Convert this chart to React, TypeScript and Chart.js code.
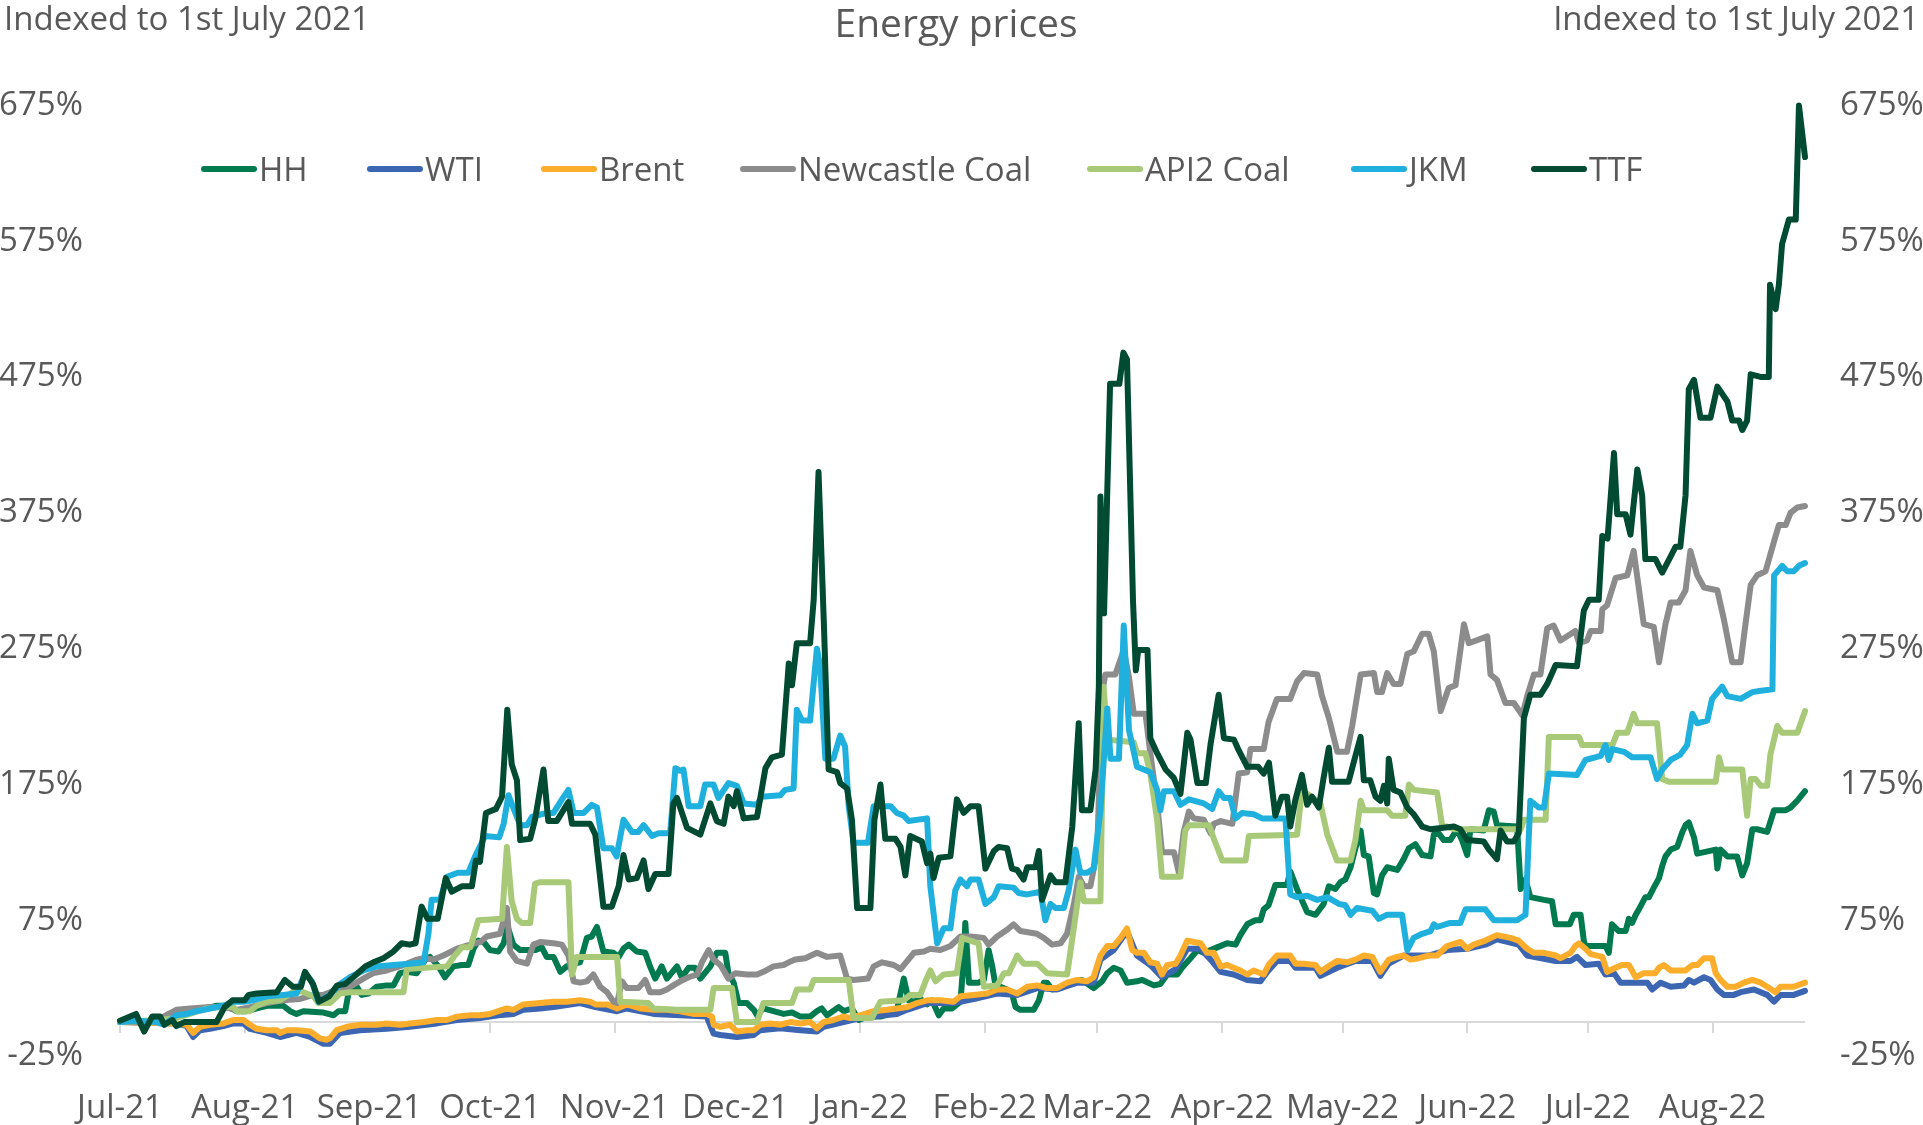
import React, { useEffect, useRef } from "react";
import { Chart, registerables } from "chart.js";

Chart.register(...registerables);

// ---------- Axis / label data ----------
const chartTitle = "Energy prices";
const axisTitle = "Indexed to 1st July 2021";
const monthLabels = ["Jul-21", "Aug-21", "Sep-21", "Oct-21", "Nov-21", "Dec-21", "Jan-22", "Feb-22", "Mar-22", "Apr-22", "May-22", "Jun-22", "Jul-22", "Aug-22"];
// day offsets from 1 July 2021 of each month start
const monthStartDays = [0, 31, 62, 92, 123, 153, 184, 215, 243, 274, 304, 335, 365, 396];
const lastDay = 419;
const yMin = -25;
const yMax = 675;
const yStep = 100;

const seriesNames = ["HH", "WTI", "Brent", "Newcastle Coal", "API2 Coal", "JKM", "TTF"];
const seriesColors = ["#007A4E", "#3C66B1", "#FBAD2B", "#8C8C8C", "#A7C978", "#1FB0DD", "#004B31"];

// ---------- Series values: [day since 1 Jul 2021, % change] ----------
const hhPoints: [number, number][] = [[0,0],[6,0],[10,3],[14,5],[17.4,8],[21.6,10],[24,12],[26.5,12],[29,8],[31.5,8],[34,10],[36.5,12],[40.6,12],[42.3,8],[43.9,6],[45.6,8],[50.6,7],[53.1,5],[54.3,8],[56,8],[56.8,21],[58.9,26],[60.1,20],[61.8,21],[63.8,26],[66.3,27],[68,27],[69.6,36],[71.3,37],[73.8,36],[75.9,46],[77.1,48],[79.2,41],[80.8,33],[82.9,41],[85,42],[86.6,42],[87.9,54],[89.1,60],[90.4,59],[92,53],[94.1,52],[95.4,58],[96.4,70],[97.8,57],[99.5,53],[103.2,53],[104.9,55],[106.1,48],[107.8,48],[109.5,37],[111.1,41],[112.8,43],[114.4,44],[116.1,62],[117.3,63],[118.6,70],[120.2,52],[122.7,51],[124,48],[125.2,54],[126.5,57],[128.5,52],[130.6,51],[131.8,41],[133.1,32],[134.7,41],[136,32],[138.5,41],[139.7,33],[141.4,40],[143,40],[144.3,32],[146.8,41],[148.4,51],[150.5,51],[151.3,36],[152.6,29],[153.8,14],[155.9,14],[157.6,9],[158.4,5],[160,10],[162.5,8],[165,6],[167.1,7],[169.2,4],[171.6,4],[173.3,8],[174.5,10],[175.8,5],[178.7,11],[180,8],[182,10],[183.7,1.5],[185.7,4],[189.1,4],[191.5,6],[193.2,9],[194.9,32],[196.1,16],[197.4,15],[199,17],[200.7,13],[201.9,16],[203.6,5],[204.8,10],[206.9,10],[209,15],[209.8,47],[210.2,73],[211.1,29],[213.5,29],[214.8,31],[216,53],[216.9,41],[217.7,27],[218.9,26],[220.6,24],[221.8,21],[222.7,11],[223.9,9],[227.2,9],[228.5,16],[229.7,29],[230.5,29],[231.8,24],[233.9,25],[236.3,29],[239.2,31],[242.1,25],[244.2,30],[245.5,36],[247.1,40],[248.8,38],[250.4,29],[252.9,30],[254.2,31],[257.1,27],[258.7,28],[260.4,35],[262.9,35],[264.1,40],[266.2,47],[267.9,53],[269.5,51],[271.2,53],[272.8,55],[275.3,58],[277.4,57],[278.6,64],[280.3,72],[282.3,75],[283.6,75],[284.4,83],[285.6,86],[287.3,101],[290.2,101],[291,111],[293.1,95],[295.2,81],[297.3,79],[299.3,87],[300.6,100],[302.2,98],[303.5,103],[304.7,105],[306,114],[307.2,128],[308.5,141],[309.3,123],[310.5,122],[311.8,95],[312.6,94],[313.8,108],[315.1,114],[317.6,112],[319.2,120],[320.5,128],[322.1,131],[323.8,123],[325.9,122],[326.7,138],[327.9,139],[329.2,134],[330.8,134],[332.5,142],[333.7,134],[335,123],[335.8,142],[339.1,141],[340.4,156],[341.6,155],[342.4,145],[347.4,144],[348.3,98],[349.5,105],[350.7,92],[354.1,90],[356.1,89],[357,72],[360.5,72],[361.5,79],[363.2,79],[364,60],[364.4,56],[369.4,56],[370.2,51],[371,72],[372.7,67],[374.4,67],[375.2,76],[376,73],[376.9,79],[377.7,83],[379.3,92],[380.2,92],[381.4,99],[382.7,106],[383.5,115],[384.3,122],[385.6,127],[387.2,129],[388.5,140],[389.3,145],[390.1,147],[391.4,136],[392.2,124],[396.8,127],[397.2,113],[398,127],[399.7,122],[402.1,122],[403.4,108],[404.6,117],[405.9,142],[407.1,142],[409.6,140],[411.3,156],[414.2,156],[415.4,158],[417.1,163],[419,170]];

const wtiPoints: [number, number][] = [[0,0],[14,-1],[16.6,-3],[18.2,-11],[19.9,-6],[22.4,-5],[25.7,-3],[28.2,-1],[30.7,-1],[32.3,-5],[36.5,-8],[39.8,-11],[43.9,-8],[47.3,-11],[50.6,-16],[52.2,-16],[54.7,-8],[59.7,-6],[66.3,-5],[72.1,-3.5],[78.8,-1],[83.8,1.5],[89.5,3],[94.1,5],[97.8,6],[100.3,9],[104.5,10],[107.8,11],[114.4,14],[118.2,11],[123.6,8],[126,10],[132.7,6],[139.3,5],[145.9,4],[147.6,-8.5],[149.3,-9.5],[153.4,-11],[157.6,-9.5],[159.2,-6],[164.2,-4.6],[169.2,-6],[173.3,-7],[175,-3.5],[179.9,0],[184.1,3],[189.9,5],[193.2,6],[195.7,9],[200.7,14],[207.3,14],[212.3,17],[218.1,21],[223.1,20],[228.1,25],[233,24],[238,29],[242.1,29],[243.8,46],[247.1,53],[250.4,67],[252.9,49],[256.2,42],[259.1,33],[262.5,39],[265.4,54],[268.7,54],[271.2,46],[273.7,37],[276.9,35],[280.3,31],[283.6,30],[285.3,37],[287.7,45],[291,45],[292.3,40],[297.3,40],[298.5,34],[302.7,40],[307.2,45],[311.4,45],[313.4,34],[315.5,43],[319.2,49],[325.4,49],[330,53],[335,54],[339.5,57],[342.4,61],[347.8,57],[349.9,49],[357,45],[360.7,45],[362.3,48],[364.4,42],[367.7,43],[369.4,35],[371.5,36],[373.1,29],[375.2,29],[379.8,29],[381,24],[383.1,29],[385.6,26],[388.9,27],[390.1,31],[391.4,29],[393.9,33],[395.5,31],[397.2,24],[398.8,20],[401.3,20],[403,22],[406.3,24],[409.6,20],[411.3,15],[412.9,20],[416.2,20],[419,23]];

const brentPoints: [number, number][] = [[0,0],[14,-1],[16.6,-2],[18.2,-8],[19.9,-3.5],[22.4,-2],[25.7,-1],[28.2,1.5],[30.7,1.5],[32.3,-2],[34,-5],[36.5,-6],[39,-6],[39.8,-8],[41.5,-6],[43.9,-6],[47.3,-7],[49.7,-12],[51.4,-13],[52.2,-12],[53.9,-6],[56.4,-3.5],[59.7,-2],[63.8,-2],[66.3,-1],[69.6,-2],[72.1,-1],[75.5,0],[78.8,1.5],[81.3,1.5],[83.8,4],[87.1,5],[89.5,5],[92,6],[94.1,8],[96.2,10],[97.8,9],[100.3,13],[104.5,14],[107.8,15],[111.1,15],[114.4,16],[116.9,15],[118.2,13],[121.1,13],[123.6,10],[126,13],[129.4,10],[132.7,9],[136,9],[139.3,8],[142.6,6],[145.9,6],[147.2,4],[147.6,-2],[149.3,-3.5],[151.7,-2],[153.4,-7],[155.9,-6],[157.6,-6],[159.2,-2],[161.7,-1],[164.2,-2],[166.7,0],[169.2,-1],[171.6,0],[173.3,-4.6],[175,0],[177.4,1.5],[179.9,4],[181.6,3],[184.1,5],[187.4,8],[190.7,9],[193.2,10],[195.7,11],[198.2,14],[200.7,16],[204,16],[207.3,15],[209,19],[212.3,20],[215.6,21],[218.1,24],[220.6,24],[223.1,21],[225.6,26],[228.1,27],[230.5,25],[233,25],[235.5,29],[238,31],[240.5,30],[242.1,33],[243.8,49],[245.5,56],[247.1,56],[248.8,62],[250.4,69],[251.7,53],[252.9,51],[254.6,51],[256.2,44],[257.9,43],[259.1,35],[260.4,42],[262.5,43],[263.7,49],[265.4,60],[267,59],[268.7,58],[270.3,51],[272,51],[273.7,41],[275.3,42],[276.9,40],[278.6,38],[280.3,35],[281.9,38],[284.4,35],[285.6,42],[287.7,49],[291,49],[292.3,43],[294.4,43],[297.3,42],[298.5,37],[301,42],[302.7,45],[305.1,44],[307.2,46],[309.3,49],[311.4,48],[313.4,37],[315.5,46],[317.6,48],[319.2,49],[320.9,46],[323,47],[325.4,49],[327.5,49],[330,56],[333.3,59],[335,54],[336.6,57],[339.5,60],[342.4,64],[345.8,62],[347.8,60],[349.9,54],[351.6,51],[354.1,51],[357,49],[358.2,47],[360.7,51],[361.9,56],[362.8,58],[364.4,54],[365.7,50],[368.6,48],[369.8,37],[371.9,40],[373.5,42],[375.2,42],[376.9,33],[378.9,36],[381.8,36],[382.7,40],[383.9,42],[385.6,38],[389.3,38],[391,42],[392.2,42],[393.9,47],[395.9,47],[396.8,36],[398,31],[399.7,26],[401.7,26],[403.8,29],[405.9,31],[408,29],[409.6,26],[411.7,22],[412.9,26],[416.2,26],[419,29]];

const newcastlePoints: [number, number][] = [[0,0],[6,0],[10.8,4],[14,9],[17.4,10],[21.6,11],[25.7,11],[29,9],[32.3,11],[36.5,14],[40.6,16],[44.8,17],[48.1,20],[50.6,20],[54,24],[57.2,26],[60.5,32],[63,36],[66.3,38],[70.5,42],[73.8,46],[75.5,47],[78,46],[80.4,49],[83.8,54],[87.1,57],[89.6,59],[91.2,63],[94.5,65],[96.2,84],[97,52],[98.7,45],[101.2,43],[102.8,57],[104.5,59],[107.8,58],[109.9,57],[111.5,49],[112.8,30],[114.4,29],[116.1,30],[117.7,35],[119.4,26],[121.1,22],[122.7,15],[123.6,14],[124.8,30],[126,25],[128.9,25],[130.6,31],[131.8,22],[134.3,22],[136,24],[137.6,27],[139.3,30],[141.4,33],[143.5,35],[144.7,44],[146.4,53],[147.6,46],[149.3,42],[151.3,32],[153,36],[155.9,35],[158.4,35],[160,37],[162.5,41],[165,42],[166.3,44],[167.9,46],[170.4,47],[173.3,51],[175.8,48],[179.1,49],[180.8,32],[182.4,31],[186,32],[187.4,41],[189.5,44],[192.4,42],[194.1,39],[197.4,51],[199.9,52],[201.5,54],[204,53],[206.5,56],[209,63],[211.5,63],[214.8,62],[216,57],[218.1,63],[220.6,68],[222.2,72],[223.9,67],[228,65],[229.7,62],[231.8,57],[233.9,58],[235.5,65],[237.2,87],[238.4,107],[239.7,100],[241.3,100],[243,126],[244.2,242],[245,256],[247.5,256],[249.6,274],[250.9,254],[252.1,227],[255,227],[256.2,198],[257.9,161],[259.1,125],[262.1,125],[263.3,110],[264.5,140],[265.8,155],[267,150],[269.5,149],[271.2,139],[272,146],[273.7,148],[276.6,146],[278.2,183],[280.3,184],[281.1,201],[284.4,201],[285.6,221],[287.7,238],[291,238],[292.7,251],[294.4,257],[297.7,256],[298.9,240],[300.6,224],[302.7,199],[305.1,199],[306.4,218],[308.5,256],[311.8,257],[312.6,243],[313.8,243],[315.1,257],[316.7,249],[318.4,249],[320.1,271],[321.7,273],[323.8,286],[325.4,286],[326.7,273],[328.4,229],[330.4,246],[332.1,248],[334.2,293],[335.4,279],[340,284],[340.8,256],[342.4,252],[344.5,235],[346.6,235],[348.7,226],[349.9,240],[351.6,256],[353.2,256],[354.9,290],[356.5,292],[358.2,281],[361.9,288],[362.8,279],[364.8,281],[365.7,288],[368.2,288],[368.6,304],[369.8,307],[371.9,327],[374.8,329],[376.4,347],[378.9,293],[381.4,291],[382.7,265],[384.3,293],[385.6,309],[387.6,309],[389.3,318],[390.5,347],[392.2,329],[393.9,320],[397.2,318],[398.8,297],[400.9,265],[403,265],[404.2,293],[405.5,322],[407.1,329],[409.2,332],[411.3,354],[412.5,366],[414.2,366],[415.4,375],[417.1,379],[419,380]];

const api2Points: [number, number][] = [[0,0],[6,1],[10,1.5],[14,3],[17.4,6],[21.6,10],[24.9,11],[28.2,11],[29,8],[32.3,8],[34,12],[36.5,15],[39.8,16],[43.9,24],[46.4,21],[48.1,19],[49.3,14],[52.2,14],[54.7,21],[57.2,22],[70.5,22],[71.3,39],[81.3,41],[83,48],[85,55],[87.1,55],[89.1,75],[95,76],[96.2,129],[97.4,89],[98.7,76],[99.9,73],[102,73],[103.2,102],[104.5,103],[111.5,103],[112.4,35],[113.6,48],[123.6,48],[124.4,15],[131.4,14],[132.7,10],[138.5,9],[146.8,9],[147.6,25],[152.2,25],[153.4,0],[158.4,0],[160,14],[167.1,14],[168.3,24],[171.6,24],[172.5,31],[181.2,31],[182.4,3],[187,3],[189.1,15],[194.9,16],[196.5,20],[199,20],[200.3,30],[201.5,38],[202.8,30],[204.8,35],[208.1,36],[209.4,62],[213.5,58],[214.8,26],[218.1,27],[219.8,36],[221,36],[223.1,49],[224.7,43],[228.1,43],[230.5,36],[235.5,35],[236.3,51],[237.6,78],[238.8,103],[239.7,89],[243.8,89],[244.6,247],[245.5,208],[252.1,206],[252.9,198],[255,198],[256.2,183],[257.9,149],[259.1,107],[263.7,107],[264.9,141],[265.8,145],[270.8,145],[272,135],[274.1,119],[279.9,119],[280.7,137],[292.7,138],[293.9,171],[298.5,161],[300.2,138],[302.6,119],[306,119],[307.2,134],[308.5,163],[309.3,156],[315.1,156],[316.3,152],[319.6,152],[320.5,175],[321.7,171],[327.5,169],[328.8,144],[330,144],[331.7,142],[348.3,142],[349.1,149],[354.5,149],[355.3,210],[362.8,210],[363.6,204],[371.1,204],[372.3,213],[374.8,213],[376.4,227],[377.3,220],[382.2,220],[383.5,179],[385.1,177],[396.8,177],[397.6,195],[398.4,186],[403.4,186],[404.6,152],[405.5,179],[406.7,179],[408,174],[409.6,174],[410.4,197],[412.1,218],[413.3,213],[417.1,213],[419,229]];

const jkmPoints: [number, number][] = [[0,0],[4,1],[9,0],[11,-2],[14,5],[16.6,6],[19,8],[22.4,10],[25.7,12],[28.2,15],[30.7,15],[33,16],[36.5,19],[40.6,20],[43.9,21],[46,36],[47.7,30],[49.3,15],[52.2,20],[54.7,28],[57.2,33],[60.5,38],[63.8,41],[68,42],[72,43],[75.5,44],[76.7,65],[77.5,90],[79.6,90],[81.3,107],[84,110],[86.6,110],[88.3,122],[90.8,137],[94.3,136],[95.4,146],[96.6,167],[98.3,154],[99.5,145],[101.2,145],[102.4,151],[106.1,154],[107.8,154],[109.9,164],[111.5,171],[112.8,154],[115.3,154],[117.3,160],[118.6,158],[120.2,128],[122.3,128],[123.5,122],[125.2,149],[127.3,140],[128.9,140],[130.2,145],[132.3,137],[133.9,139],[136.8,139],[138.1,187],[139.3,185],[140.1,186],[141.4,159],[144.3,159],[145.5,175],[147.6,175],[148.8,165],[151.3,176],[153.4,174],[155.1,161],[158.4,160],[159.6,166],[164.2,167],[165.4,171],[167.5,172],[168.3,230],[169.6,222],[171.6,222],[173.3,275],[174.1,262],[175.4,194],[177.4,194],[179.1,211],[180.3,203],[181.2,159],[182.4,132],[186,132],[187.4,159],[191.6,159],[193.2,154],[194.9,152],[196.1,148],[200.7,150],[201.5,100],[203.2,58],[204.8,69],[206.5,69],[207.7,97],[209,105],[210.6,100],[211.5,105],[213.5,105],[215.2,87],[217.3,92],[218.5,100],[222.2,99],[223.5,95],[225.6,94],[228.9,96],[230.1,75],[231.4,87],[232.6,84],[234.7,84],[235.9,97],[237.6,127],[238.8,110],[240.5,110],[242.1,113],[243.8,156],[245.5,231],[246.3,194],[248.4,194],[249.6,292],[250.9,215],[252.9,188],[256.2,184],[257.9,171],[258.7,156],[259.6,170],[262.1,170],[263.7,160],[265.8,164],[269.5,161],[271.6,157],[273.2,170],[274.5,165],[276.1,165],[277.4,150],[279,154],[281.9,153],[284,150],[289.8,150],[291,94],[292.7,92],[295.2,93],[297.7,90],[300.2,92],[303.1,87],[304.7,86],[306,79],[307.6,84],[311.4,82],[313,76],[315.1,79],[318.8,79],[320.1,53],[321.7,62],[323.8,65],[325.9,67],[326.7,72],[327.5,70],[330.8,73],[333.3,73],[334.6,83],[339.5,83],[341.6,75],[347.4,75],[349.5,79],[350.7,163],[352.8,158],[354.1,158],[355.3,183],[362.3,182],[364.4,193],[368.2,196],[369.4,204],[370.2,193],[371.1,201],[374,199],[376,195],[380.6,195],[382.2,179],[383.5,186],[385.6,193],[388,197],[389.7,204],[391,227],[392.2,220],[394.7,222],[395.9,238],[398.4,247],[399.7,240],[403,238],[405.9,243],[408,244],[410.9,245],[411.3,329],[413.3,336],[414.6,332],[416.2,332],[417.5,336],[419,338]];

const ttfPoints: [number, number][] = [[0,1],[4,6],[6,-7],[8,4],[10,4],[11,-2],[13,1.5],[14,-3],[16,0],[24,0],[26,11],[28,16],[31,16],[32,20],[34,21],[39,22],[41,31],[43,26],[45,26],[46,37],[48,28],[49.5,15],[52,19],[54,27],[56,28],[58,33],[61,41],[63,44],[65.5,47],[68,52],[70,58],[72,57],[73.5,58],[75,85],[76.5,76],[79,76],[81,106],[82.5,96],[85,100],[87.5,100],[88.5,119],[89.5,118],[91,154],[93.5,157],[95,166],[96.3,230],[97.4,190],[98.7,178],[99.5,134],[102,135],[103.2,149],[105.3,186],[106.5,148],[108.6,148],[111.5,162],[112.4,146],[116.9,146],[118.2,138],[120.2,85],[122.3,85],[124,100],[125.2,123],[126.5,105],[128.5,106],[130.2,119],[131.4,98],[133.1,109],[136.4,109],[137.6,161],[138.5,165],[141,143],[144.3,138],[146.8,161],[148.4,148],[150.1,146],[151.3,166],[152.6,159],[153.4,170],[155.1,150],[158.4,151],[160.5,187],[162.1,195],[164.6,197],[166.3,264],[167.1,248],[168.3,279],[171.6,279],[172.5,311],[173.7,405],[175,296],[176.2,186],[178.3,184],[179.1,176],[180.8,172],[182,149],[183.3,84],[186.6,84],[187.6,149],[189.1,175],[190.3,135],[192.8,135],[194.1,129],[195.3,108],[196.5,137],[199.4,133],[200.7,117],[201.5,124],[202.3,106],[203.6,121],[206.5,122],[208.1,164],[209.8,154],[211.5,159],[213.5,159],[215.2,113],[217.3,126],[218.5,129],[220.6,128],[221.8,113],[223.1,112],[224.7,105],[225.6,114],[227.6,114],[228.5,126],[229.3,90],[231.4,108],[232.6,103],[235.1,103],[236.8,144],[238.4,220],[239.2,156],[241.3,156],[242.6,186],[243.4,247],[243.8,387],[244.7,301],[246.2,470],[248.5,470],[249.5,493],[250.4,488],[251.9,310],[252.6,259],[253.2,274],[255.5,274],[256.2,209],[257.9,198],[260,186],[262,180],[263.7,168],[265.4,213],[266.2,208],[267.9,176],[270,176],[271.2,205],[273.2,241],[274.5,209],[277,208],[278.2,200],[280.3,188],[283,188],[284.4,183],[285.7,191],[287.3,152],[288.9,166],[290.2,166],[291,144],[292.3,164],[293.9,182],[295.2,160],[296.4,166],[298.1,158],[299.3,180],[300.6,202],[301.4,177],[305.5,177],[307.2,196],[308.5,210],[309.3,178],[310.9,178],[312.2,166],[313.4,163],[314.3,174],[315.1,161],[315.5,194],[316.7,171],[318.4,169],[320.1,158],[321.7,153],[323.8,144],[325.9,142],[331.7,144],[333.3,142],[335,134],[339.1,133],[340.4,127],[342.4,120],[343.3,141],[344.9,133],[346.6,133],[347.8,139],[349.1,224],[350.7,241],[353.2,241],[354.9,249],[357,263],[362.3,262],[364,303],[365.3,311],[367.7,311],[368.6,358],[369.9,356],[371.5,419],[372.3,374],[374.4,374],[375.6,359],[377.3,407],[378.5,388],[379.3,341],[381.8,341],[383.5,331],[385.6,343],[386.8,350],[388,350],[389.3,388],[390.1,466],[391.4,473],[393,445],[395.5,445],[397.2,468],[399.7,457],[400.9,443],[402.6,443],[403.4,436],[404.6,443],[405.5,477],[408.2,475],[410,475],[410.3,543],[411.7,525],[412.5,543],[413.3,573],[415,591],[416.7,591],[417.5,675],[419,637]];

const allSeries = [hhPoints, wtiPoints, brentPoints, newcastlePoints, api2Points, jkmPoints, ttfPoints];

// ---------- Layout / style constants ----------
const W = 1923;
const H = 1125;
const FONT = '"Open Sans", "DejaVu Sans", sans-serif';
const TEXT_COLOR = "#595959";
const LINE_WIDTH = 6;
const legendLineX = [202, 368, 542, 741, 1088, 1352, 1532];

const decorPlugin = {
  id: "decor",
  beforeDatasetsDraw(chart: any) {
    const { ctx, chartArea, scales } = chart;
    const y0 = scales.y.getPixelForValue(0);
    ctx.save();
    ctx.strokeStyle = "#D9D9D9";
    ctx.lineWidth = 2;
    ctx.beginPath();
    ctx.moveTo(chartArea.left, y0);
    ctx.lineTo(chartArea.right, y0);
    monthStartDays.forEach((d) => {
      const x = Math.round(scales.x.getPixelForValue(d));
      ctx.moveTo(x, y0);
      ctx.lineTo(x, y0 + 11);
    });
    ctx.stroke();
    ctx.restore();
  },
  afterDraw(chart: any) {
    const { ctx } = chart;
    ctx.save();
    ctx.fillStyle = TEXT_COLOR;
    ctx.textBaseline = "alphabetic";
    ctx.font = `39px ${FONT}`;
    ctx.textAlign = "center";
    ctx.fillText(chartTitle, 956, 37);
    ctx.font = `33px ${FONT}`;
    ctx.textAlign = "left";
    ctx.fillText(axisTitle, 4, 30);
    ctx.textAlign = "right";
    ctx.fillText(axisTitle, 1919, 30);
    // legend
    const ly = 169;
    seriesNames.forEach((name, i) => {
      const x = legendLineX[i];
      ctx.strokeStyle = seriesColors[i];
      ctx.lineWidth = LINE_WIDTH;
      ctx.lineCap = "round";
      ctx.beginPath();
      ctx.moveTo(x + 2, ly);
      ctx.lineTo(x + 52, ly);
      ctx.stroke();
      ctx.fillStyle = TEXT_COLOR;
      ctx.textAlign = "left";
      ctx.fillText(name, x + 57, ly + 12);
    });
    ctx.restore();
  },
};

export default function App() {
  const canvasRef = useRef<HTMLCanvasElement | null>(null);

  useEffect(() => {
    document.body.style.margin = "0";
    document.body.style.overflow = "hidden";
    const canvas = canvasRef.current;
    if (!canvas) return;
    const tickFont = { family: FONT, size: 33 };
    const chart = new Chart(canvas, {
      type: "line",
      data: {
        datasets: seriesNames.map((name, i) => ({
          label: name,
          data: allSeries[i].map(([d, v]) => ({ x: d, y: v })),
          borderColor: seriesColors[i],
          backgroundColor: seriesColors[i],
          borderWidth: LINE_WIDTH,
          pointRadius: 0,
          tension: 0,
          borderJoinStyle: "round" as const,
          borderCapStyle: "round" as const,
          order: seriesNames.length - 1 - i,
          clip: 10,
        })),
      },
      options: {
        responsive: false,
        animation: false,
        devicePixelRatio: 1,
        layout: { padding: { top: 105.5, left: 0, right: 0, bottom: 0 } },
        plugins: {
          legend: { display: false },
          title: { display: false },
          tooltip: { enabled: false },
        },
        scales: {
          x: {
            type: "linear",
            min: 0,
            max: lastDay,
            position: "bottom",
            grid: { display: false, drawTicks: false },
            border: { display: false },
            afterBuildTicks: (s: any) => {
              s.ticks = monthStartDays.map((v) => ({ value: v }));
            },
            afterFit: (s: any) => {
              s.height = 69;
            },
            ticks: {
              autoSkip: false,
              maxRotation: 0,
              minRotation: 0,
              padding: 33,
              color: TEXT_COLOR,
              font: tickFont,
              callback: (_v: any, idx: number) => monthLabels[idx],
            },
          },
          y: {
            min: yMin,
            max: yMax,
            position: "left",
            grid: { display: false, drawTicks: false },
            border: { display: false },
            afterFit: (s: any) => {
              s.width = 120;
            },
            ticks: {
              stepSize: yStep,
              padding: 37,
              color: TEXT_COLOR,
              font: tickFont,
              callback: (v: any) => `${v}%`,
            },
          },
          y2: {
            min: yMin,
            max: yMax,
            position: "right",
            grid: { display: false, drawTicks: false },
            border: { display: false },
            afterFit: (s: any) => {
              s.width = 118;
            },
            ticks: {
              stepSize: yStep,
              padding: 35,
              color: TEXT_COLOR,
              font: tickFont,
              callback: (v: any) => `${v}%`,
            },
          },
        },
      },
      plugins: [decorPlugin],
    } as any);
    return () => chart.destroy();
  }, []);

  return (
    <div style={{ width: W, height: H, position: "relative", background: "#fff" }}>
      <canvas ref={canvasRef} width={W} height={H} style={{ display: "block" }} />
    </div>
  );
}
